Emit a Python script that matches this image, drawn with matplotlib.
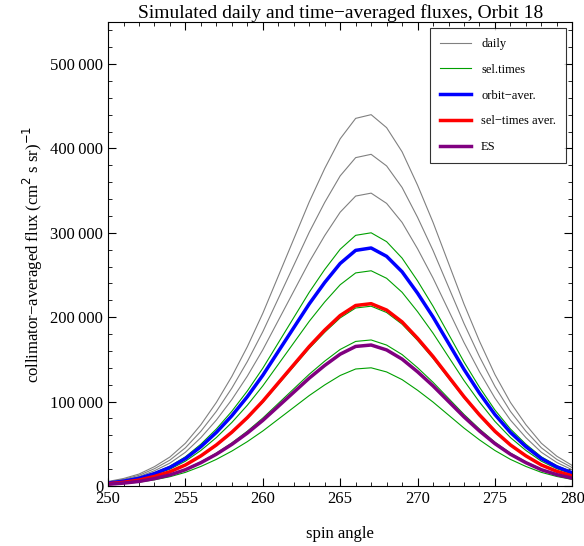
import numpy as np
import matplotlib.pyplot as plt
from matplotlib.ticker import FuncFormatter

plt.rcParams['font.family'] = ['Liberation Serif', 'DejaVu Serif']

# spin angles and normalized profile
angles = list(range(250, 281))
profile = [0.012, 0.02, 0.032, 0.052, 0.078, 0.115, 0.165, 0.225, 0.295, 0.375, 0.465,
           0.565, 0.665, 0.765, 0.855, 0.935, 0.99, 1.0, 0.965, 0.90, 0.81, 0.71,
           0.60, 0.49, 0.39, 0.30, 0.225, 0.165, 0.115, 0.08, 0.055]

daily_peaks = [440000, 393000, 347000]
seltimes_peaks = [300000, 255000, 213000, 173000, 140000]
orbit_aver_peak = 282000
seltimes_aver_peak = 216000
es_peak = 167000

prof = np.array(profile)
fig, ax = plt.subplots(figsize=(5.84, 5.46), dpi=100)
fig.subplots_adjust(left=0.185, right=0.98, top=0.96, bottom=0.11)

for i, p in enumerate(daily_peaks):
    ax.plot(angles, prof * p, color='gray', lw=0.8, label='daily' if i == 0 else None)
for i, p in enumerate(seltimes_peaks):
    ax.plot(angles, prof * p, color='#00a000', lw=0.8, label='sel.times' if i == 0 else None)
ax.plot(angles, prof * orbit_aver_peak, color='blue', lw=2.5, label='orbit\u2212aver.')
ax.plot(angles, prof * seltimes_aver_peak, color='red', lw=2.5, label='sel\u2212times aver.')
ax.plot(angles, prof * es_peak, color='purple', lw=2.5, label='ES')

ax.set_xlim(250, 280)
ax.set_ylim(0, 550000)
ax.set_yticks(range(0, 500001, 100000))
ax.yaxis.set_major_formatter(FuncFormatter(lambda v, _: f"{int(v):,}".replace(',', '\u2009') if v else '0'))
ax.set_xticks(range(250, 281, 5))
ax.set_xticks(range(250, 281, 1), minor=True)
ax.set_yticks(range(0, 550001, 20000), minor=True)
ax.tick_params(direction='in', which='both', top=True, right=True, labelsize=12)
ax.tick_params(which='major', length=6)
ax.tick_params(which='minor', length=3)

ax.set_xlabel('spin angle', fontsize=12, labelpad=14)
ax.set_ylabel('collimator\u2212averaged flux (cm$^2$ s sr)$^{-1}$', fontsize=12)
ax.set_title('Simulated daily and time\u2212averaged fluxes, Orbit 18', fontsize=14, pad=3)

leg = ax.legend(loc='upper right', fontsize=9, fancybox=False, edgecolor='black',
                labelspacing=1.1, handlelength=2.5, borderpad=0.8)
leg.get_frame().set_linewidth(0.8)

fig.savefig('out.png', dpi=100)
